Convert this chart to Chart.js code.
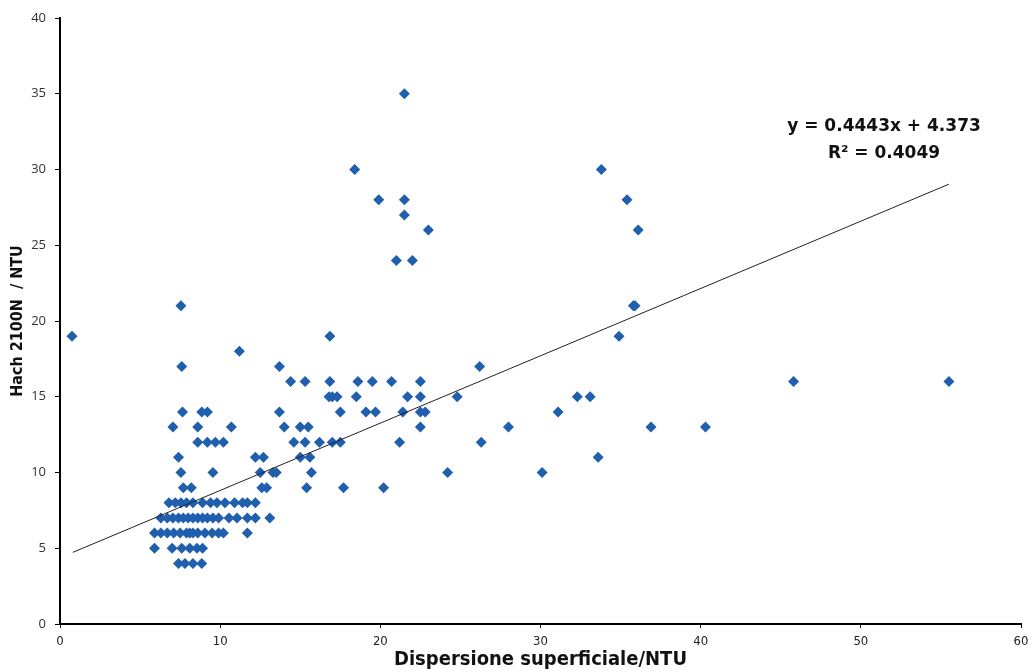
<!DOCTYPE html>
<html>
<head>
<meta charset="utf-8">
<script src="https://cdn.jsdelivr.net/npm/chart.js@4.4.0/dist/chart.umd.min.js"></script>
<style>
    body { margin: 0; background: #fff; }
    #grafico { display: block; }
</style>
</head>
<body>
<canvas id="grafico" width="1035" height="672"></canvas>
<script>
// dati, una riga per valore di Hach 2100N
var xVals = [
    7.4, 7.8, 8.3, 8.85,
    5.9, 7.0, 7.6, 8.1, 8.55, 8.9,
    5.9, 6.3, 6.7, 7.1, 7.5, 7.9, 8.1, 8.3, 8.6, 9.05, 9.5, 9.9, 10.2, 11.7,
    6.3, 6.7, 7.05, 7.4, 7.7, 8.0, 8.3, 8.6, 8.9, 9.2, 9.55, 9.9, 10.55, 11.05, 11.7, 12.2, 13.1,
    6.8, 7.2, 7.55, 7.9, 8.3, 8.9, 9.4, 9.8, 10.3, 10.9, 11.4, 11.7, 12.2,
    7.7, 8.2, 12.6, 12.9, 15.4, 17.7, 20.2,
    7.55, 9.55, 12.5, 13.3, 13.5, 15.7, 24.2, 30.1,
    7.4, 12.2, 12.7, 15.0, 15.6, 33.6,
    8.6, 9.2, 9.7, 10.2, 14.6, 15.3, 16.2, 17.0, 17.5, 21.2, 26.3,
    7.05, 8.6, 10.7, 14.0, 15.0, 15.5, 22.5, 28.0, 36.9, 40.3,
    7.65, 8.85, 9.2, 13.7, 17.5, 19.1, 19.7, 21.4, 22.5, 22.8, 31.1,
    16.8, 17.0, 17.3, 18.5, 21.7, 22.5, 24.8, 32.3, 33.1,
    14.4, 15.3, 16.85, 18.6, 19.5, 20.7, 22.5, 45.8, 55.5,
    7.6, 13.7, 26.2,
    11.2,
    0.75, 16.85, 34.9,
    7.55, 35.8, 35.9,
    21.0, 22.0,
    23.0, 36.1,
    21.5,
    19.9, 21.5, 35.4,
    18.4, 33.8,
    21.5
];
var yVals = [
    4, 4, 4, 4,
    5, 5, 5, 5, 5, 5,
    6, 6, 6, 6, 6, 6, 6, 6, 6, 6, 6, 6, 6, 6,
    7, 7, 7, 7, 7, 7, 7, 7, 7, 7, 7, 7, 7, 7, 7, 7, 7,
    8, 8, 8, 8, 8, 8, 8, 8, 8, 8, 8, 8, 8,
    9, 9, 9, 9, 9, 9, 9,
    10, 10, 10, 10, 10, 10, 10, 10,
    11, 11, 11, 11, 11, 11,
    12, 12, 12, 12, 12, 12, 12, 12, 12, 12, 12,
    13, 13, 13, 13, 13, 13, 13, 13, 13, 13,
    14, 14, 14, 14, 14, 14, 14, 14, 14, 14, 14,
    15, 15, 15, 15, 15, 15, 15, 15, 15,
    16, 16, 16, 16, 16, 16, 16, 16, 16,
    17, 17, 17,
    18,
    19, 19, 19,
    21, 21, 21,
    24, 24,
    26, 26,
    27,
    28, 28, 28,
    30, 30,
    35
];

// linea di tendenza (Excel)
var slope = 0.4443;
var intercept = 4.373;
var trendX = [0.8, 55.5];
var eqLines = ['y = 0.4443x + 4.373', 'R\u00b2 = 0.4049'];

var xTicks = [0, 10, 20, 30, 40, 50, 60];
var yTicks = [0, 5, 10, 15, 20, 25, 30, 35, 40];

var narrow = "'Liberation Sans Narrow', 'DejaVu Sans Condensed', 'Roboto Condensed', 'Liberation Sans', sans-serif";

var punti = [];
for (var i = 0; i < xVals.length; i++) {
    punti.push({ x: xVals[i], y: yVals[i] });
}

var tendenza = [];
for (var j = 0; j < trendX.length; j++) {
    tendenza.push({ x: trendX[j], y: slope * trendX[j] + intercept });
}

// scrive l'equazione sopra la retta
var equazione = {
    id: 'equazione',
    afterDraw: function (chart) {
        var ctx = chart.ctx;
        ctx.save();
        ctx.fillStyle = '#111';
        ctx.font = "bold 17px 'DejaVu Sans'";
        ctx.textAlign = 'center';
        ctx.textBaseline = 'middle';
        ctx.fillText(eqLines[0], 884, 127);
        ctx.fillText(eqLines[1], 884, 154);
        ctx.restore();
    }
};

var chartdata = {
    datasets: [
        {
            type: 'line',
            label: 'Lineare',
            data: tendenza,
            borderColor: '#222',
            borderWidth: 1,
            pointRadius: 0,
            fill: false,
            order: 0
        }, {
            type: 'scatter',
            label: 'Hach 2100N',
            data: punti,
            pointStyle: 'rectRot',
            pointRadius: 5.5,
            backgroundColor: '#1f5fad',
            borderColor: '#1f5fad',
            borderWidth: 0,
            order: 1
        }
    ]
};

var graphTarget = document.getElementById('grafico');

var grafico = new Chart(graphTarget, {
    type: 'scatter',
    data: chartdata,
    plugins: [equazione],
    options: {
        responsive: false,
        animation: false,
        layout: { padding: { top: 18, right: 14, left: 0, bottom: 0 } },
        plugins: {
            legend: { display: false },
            tooltip: { enabled: false }
        },
        scales: {
            x: {
                type: 'linear',
                min: 0,
                max: 60,
                afterBuildTicks: function (axis) {
                    axis.ticks = xTicks.map(function (v) { return { value: v }; });
                },
                afterFit: function (axis) { axis.height = 48; },
                border: { color: '#000', width: 2 },
                grid: { drawOnChartArea: false, drawTicks: true, tickLength: 4, color: '#000' },
                ticks: {
                    color: '#222',
                    padding: 6,
                    maxRotation: 0,
                    font: { family: narrow, size: 13 }
                },
                title: {
                    display: true,
                    text: 'Dispersione superficiale/NTU',
                    color: '#111',
                    padding: { top: 0, bottom: 0 },
                    font: { family: narrow, size: 20, weight: 'bold' }
                }
            },
            y: {
                type: 'linear',
                min: 0,
                max: 40,
                afterBuildTicks: function (axis) {
                    axis.ticks = yTicks.map(function (v) { return { value: v }; });
                },
                afterFit: function (axis) { axis.width = 60; },
                border: { color: '#000', width: 2 },
                grid: { drawOnChartArea: false, drawTicks: true, tickLength: 5, color: '#000' },
                ticks: {
                    color: '#333',
                    padding: 9,
                    font: { family: 'Open Sans', size: 13 }
                },
                title: {
                    display: true,
                    text: 'Hach 2100N  / NTU',
                    color: '#111',
                    padding: { top: 8, bottom: 0 },
                    font: { family: narrow, size: 16, weight: 'bold' }
                }
            }
        }
    }
});
</script>
</body>
</html>
